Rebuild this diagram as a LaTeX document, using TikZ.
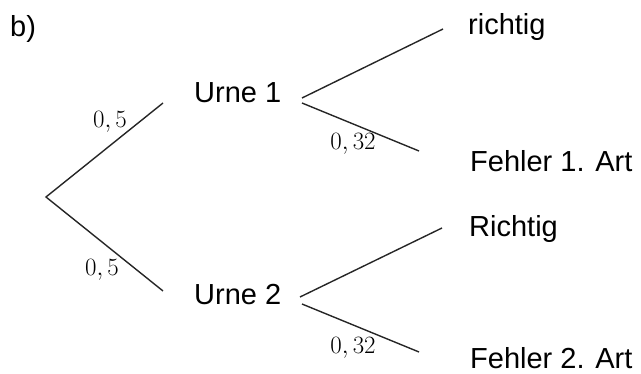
\documentclass[tikz,border=0pt]{standalone}
\usepackage{fontspec}
\setmainfont{Liberation Sans}
\begin{document}
\begin{tikzpicture}[x=1pt,y=-1pt,
  lbl/.style={anchor=base west,inner sep=0pt,font=\fontsize{29}{30}\selectfont,text=black},
  prob/.style={anchor=base,inner sep=0pt,font=\fontsize{23}{23}\selectfont,text=black},
  branch/.style={draw=black!85,line width=1.4pt}]
\useasboundingbox (0,0) rectangle (641,374);
% text nodes
\node[lbl] (b) at (10,37) {b)};
\node[lbl] (u1) at (194,103) {Urne 1};
\node[lbl] (u2) at (194,305) {Urne 2};
\node[lbl] (r1) at (468,35) {richtig};
\node[lbl] (f1) at (470,172) {Fehler 1. Art};
\node[lbl] (r2) at (469,237) {Richtig};
\node[lbl] (f2) at (470,369) {Fehler 2. Art};
% probability labels
\node[prob] (p1) at (110,128) {$0,5$};
\node[prob] (p2) at (102,276) {$0,5$};
\node[prob] (p3) at (353,150) {$0,32$};
\node[prob] (p4) at (353,354) {$0,32$};
% branch end points
\coordinate (root) at (46,197);
\coordinate (u1in) at (163,103);
\coordinate (u2in) at (163,291);
\coordinate (u1a) at (302,98);
\coordinate (u1b) at (302,103);
\coordinate (u2a) at (300,297);
\coordinate (u2b) at (302,304);
\coordinate (r1end) at (443,29);
\coordinate (f1end) at (419,151);
\coordinate (r2end) at (442,228);
\coordinate (f2end) at (419,352);
% branches
\draw[branch] (u1in) -- (root) -- (u2in);
\draw[branch] (u1a) -- (r1end);
\draw[branch] (u1b) -- (f1end);
\draw[branch] (u2a) -- (r2end);
\draw[branch] (u2b) -- (f2end);
\end{tikzpicture}
\end{document}
